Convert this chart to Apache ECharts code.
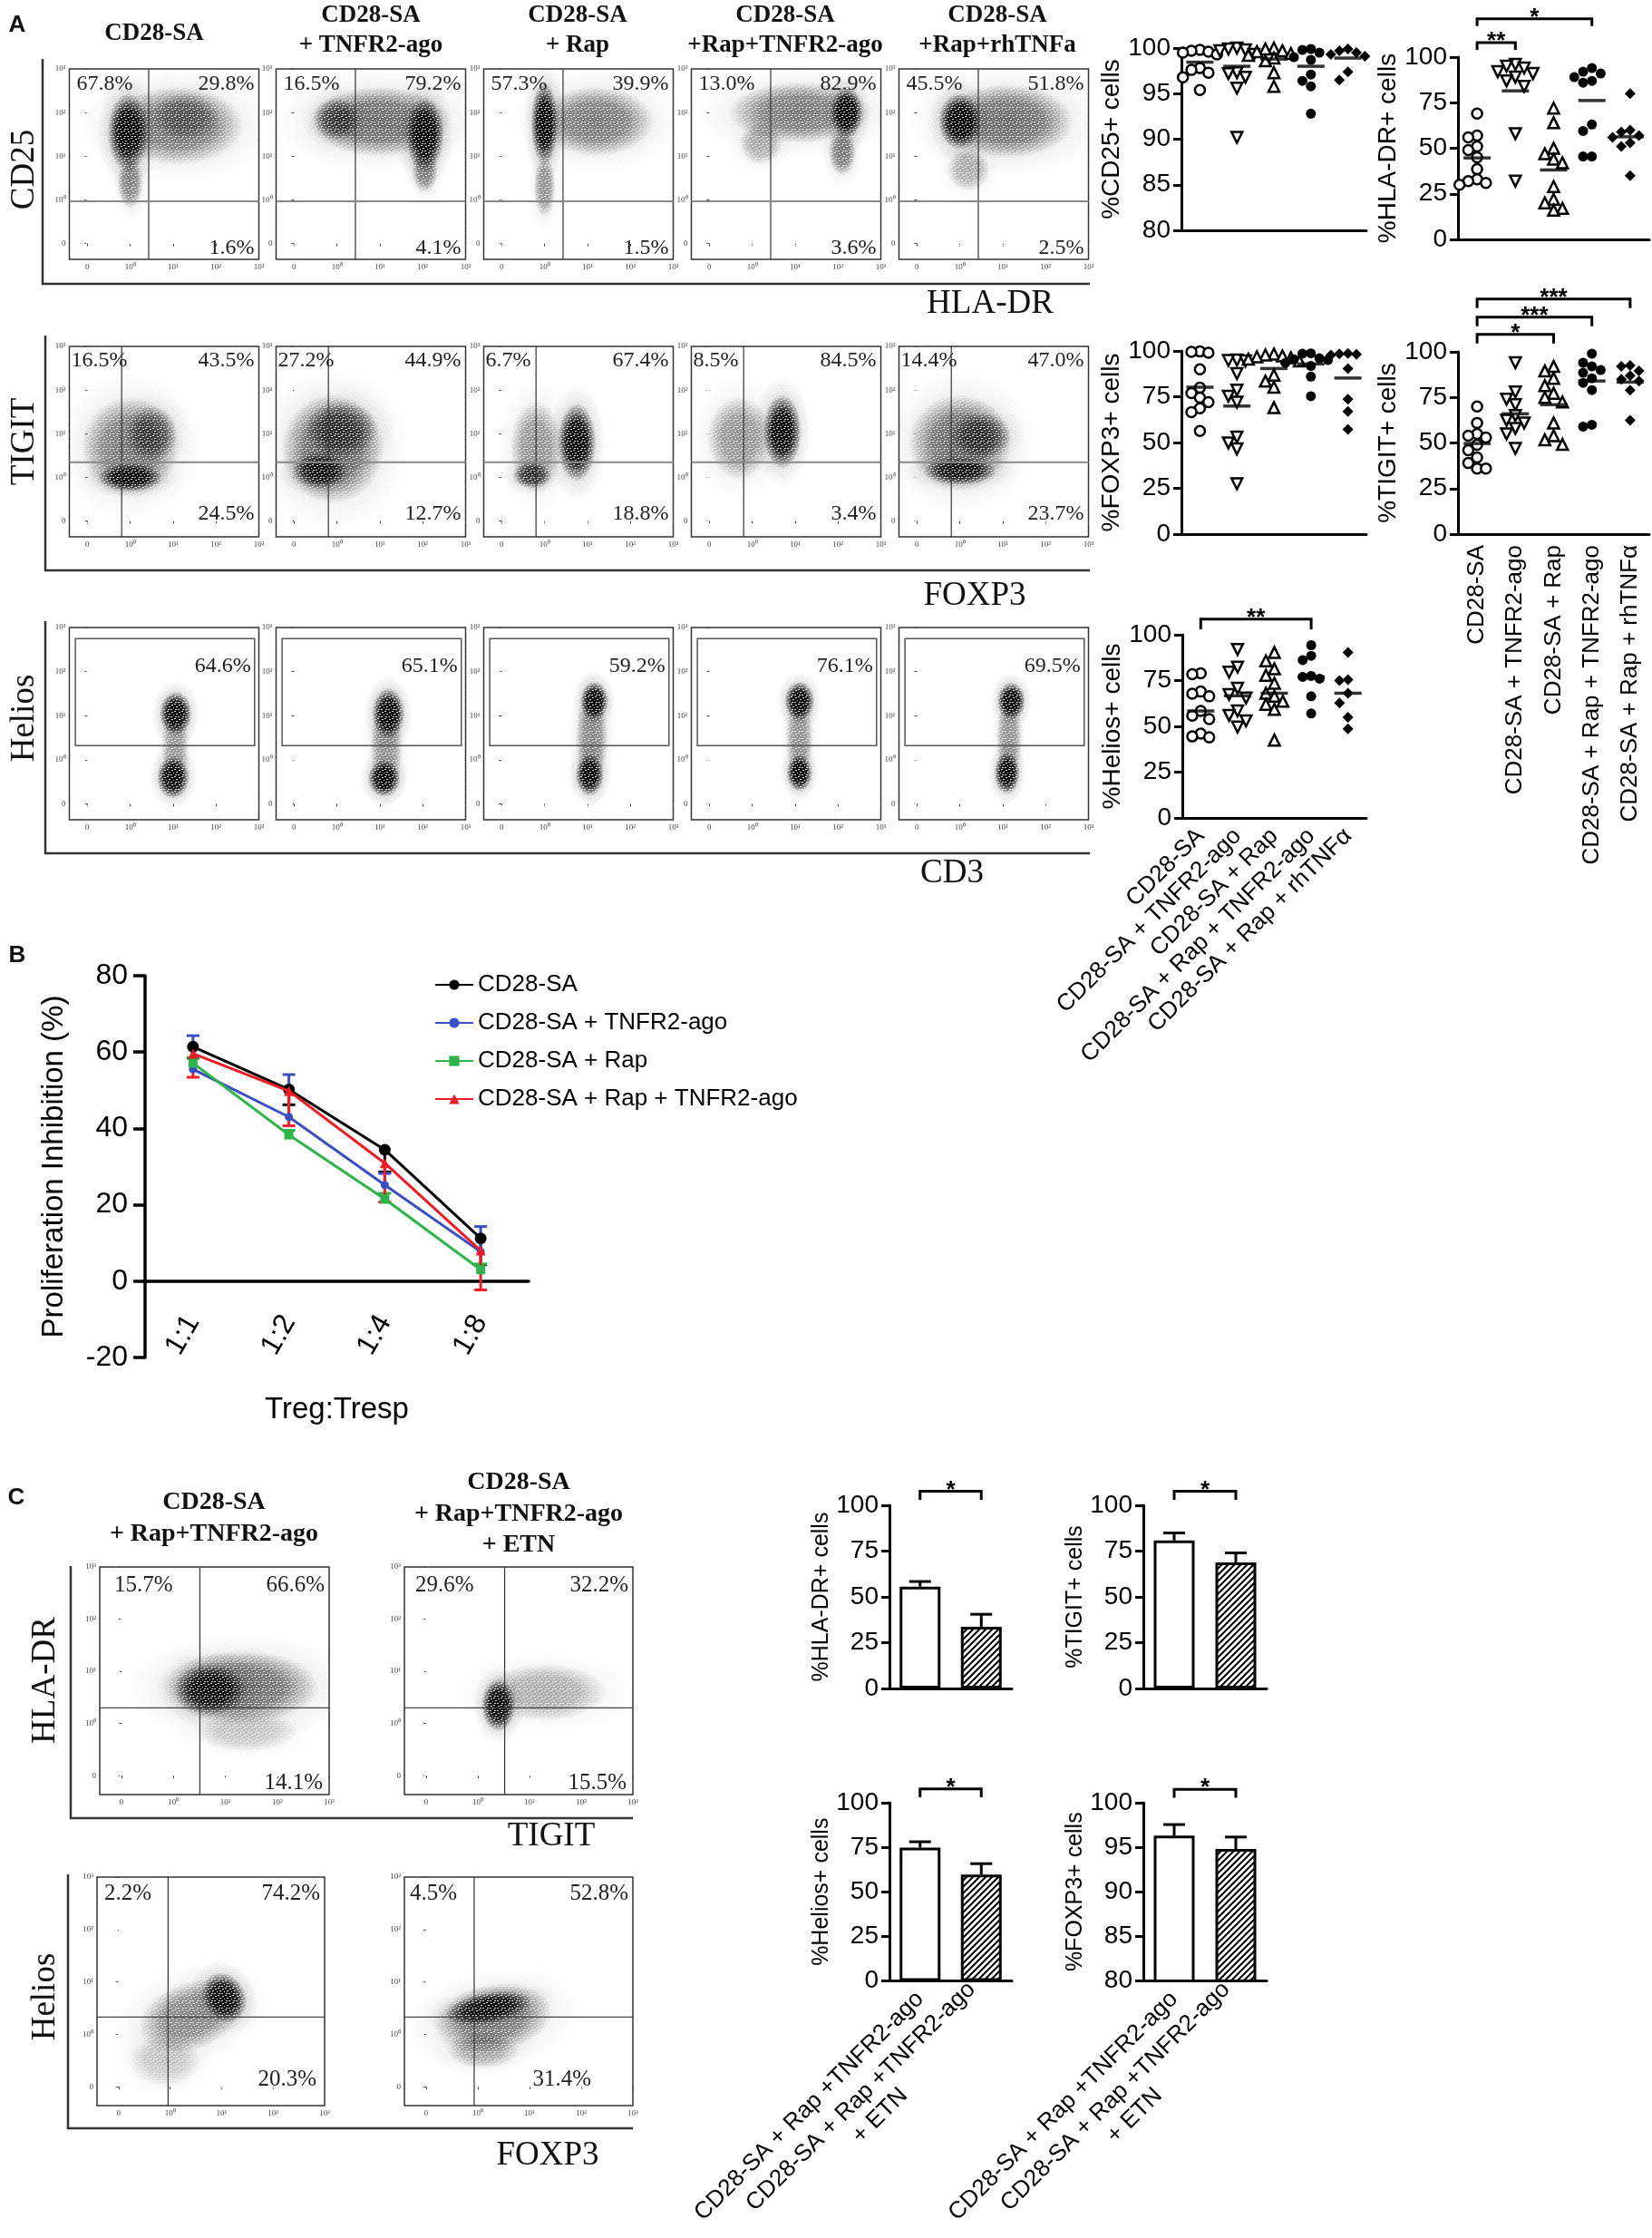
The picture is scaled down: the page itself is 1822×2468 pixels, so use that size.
<!DOCTYPE html>
<html>
<head>
<meta charset="utf-8">
<script src="https://cdn.jsdelivr.net/npm/echarts@6/dist/echarts.min.js"></script>
<style>
  html, body { margin: 0; background: #fff; }
  #main { width: 1822px; height: 2468px; }
</style>
</head>
<body>
<div id="main"></div>
<script>
// ---------- data ----------
const groupNames = ['CD28-SA', 'CD28-SA + TNFR2-ago', 'CD28-SA + Rap', 'CD28-SA + Rap + TNFR2-ago', 'CD28-SA + Rap + rhTNFα'];
const colTitles = [['CD28-SA'], ['CD28-SA', '+ TNFR2-ago'], ['CD28-SA', '+ Rap'], ['CD28-SA', '+Rap+TNFR2-ago'], ['CD28-SA', '+Rap+rhTNFa']];
const flowTicks = [0, 1, 2, 3, 4];

// flow blobs: [x, y, rx, ry, angle, alpha], x / y in decades (0 = "0", 1 = 10^0 ...)
const cd25Quad = [1.43, 0.97];
const cd25Pct = [['67.8%', '29.8%', '1.6%'], ['16.5%', '79.2%', '4.1%'], ['57.3%', '39.9%', '1.5%'], ['13.0%', '82.9%', '3.6%'], ['45.5%', '51.8%', '2.5%']];
const cd25Blobs = [
  [[2.1, 2.7, 1.55, 0.9, 0, 0.5], [0.95, 2.55, 0.48, 0.9, 0, 1.0], [1.0, 1.4, 0.3, 0.6, 0, 0.45], [2.3, 2.9, 0.8, 0.55, 0, 0.35]],
  [[2.0, 2.8, 1.65, 0.8, 0, 0.55], [1.0, 2.85, 0.55, 0.5, 0, 0.6], [3.05, 2.5, 0.45, 0.85, 0, 1.0], [3.05, 1.7, 0.3, 0.55, 0, 0.45]],
  [[1.0, 2.75, 0.32, 0.95, 0, 1.0], [2.2, 2.8, 1.35, 0.8, 0, 0.5], [1.0, 1.3, 0.25, 0.7, 0, 0.4]],
  [[2.1, 3.0, 1.65, 0.7, 0, 0.5], [3.2, 3.0, 0.38, 0.6, 0, 1.0], [3.1, 2.1, 0.32, 0.55, 0, 0.5], [1.2, 2.3, 0.5, 0.5, 0, 0.3]],
  [[1.0, 2.8, 0.5, 0.65, 0, 1.0], [2.1, 2.8, 1.55, 0.85, 0, 0.55], [1.2, 1.7, 0.5, 0.5, 0, 0.3]]
];

const tigitQuad = [0.8, 1.35];
const tigitPct = [['16.5%', '43.5%', '24.5%'], ['27.2%', '44.9%', '12.7%'], ['6.7%', '67.4%', '18.8%'], ['8.5%', '84.5%', '3.4%'], ['14.4%', '47.0%', '23.7%']];
const tigitBlobs = [
  [[1.0, 1.7, 1.15, 1.15, 0, 0.5], [1.0, 1.0, 0.75, 0.32, 0, 0.95], [1.5, 2.0, 0.6, 0.65, 0, 0.55]],
  [[0.9, 1.65, 1.2, 1.25, 0, 0.55], [0.6, 1.15, 0.65, 0.42, 0, 0.85], [1.1, 2.1, 0.85, 0.65, 0, 0.6]],
  [[1.75, 1.8, 0.45, 0.9, 0, 1.0], [0.8, 1.7, 0.6, 1.05, 0, 0.4], [0.7, 1.05, 0.45, 0.3, 0, 0.7]],
  [[1.7, 2.05, 0.45, 0.85, 0, 1.0], [0.7, 1.9, 0.75, 0.95, 0, 0.4]],
  [[1.0, 1.8, 1.2, 1.1, 0, 0.55], [1.0, 1.15, 0.85, 0.32, 0, 0.85], [1.5, 1.95, 0.7, 0.55, 0, 0.6]]
];

const heliosGate = [-0.28, 1.32, 3.9, 3.75];
const heliosPct = ['64.6%', '65.1%', '59.2%', '76.1%', '69.5%'];
const heliosBlobs = [
  [[2.06, 2.05, 0.38, 0.5, 0, 1.0], [2.0, 0.6, 0.38, 0.48, 0, 1.0], [2.05, 1.3, 0.32, 0.95, 0, 0.35]],
  [[2.2, 2.05, 0.38, 0.58, 0, 1.0], [2.1, 0.58, 0.38, 0.42, 0, 1.0], [2.15, 1.3, 0.38, 1.05, 0, 0.4]],
  [[2.16, 2.33, 0.33, 0.45, 0, 1.0], [2.05, 0.66, 0.33, 0.48, 0, 1.0], [2.1, 1.5, 0.38, 1.05, 0, 0.45]],
  [[2.1, 2.33, 0.35, 0.45, 0, 1.0], [2.1, 0.7, 0.3, 0.42, 0, 1.0], [2.1, 1.5, 0.32, 0.95, 0, 0.4]],
  [[2.2, 2.33, 0.33, 0.43, 0, 1.0], [2.1, 0.7, 0.3, 0.48, 0, 1.0], [2.15, 1.5, 0.3, 0.95, 0, 0.4]]
];

// panel C flow
const cTitles = [['CD28-SA', '+ Rap+TNFR2-ago'], ['CD28-SA', '+ Rap+TNFR2-ago', '+ ETN']];
const cHlaQuad = [[1.51, 1.3], [1.52, 1.3]];
const cHlaPct = [['15.7%', '66.6%', '14.1%'], ['29.6%', '32.2%', '15.5%']];
const cHlaBlobs = [
  [[2.3, 1.7, 1.5, 0.7, 0, 0.55], [1.7, 1.65, 0.7, 0.5, 0, 0.9], [2.4, 0.85, 1.0, 0.4, 0, 0.2]],
  [[1.4, 1.35, 0.33, 0.5, 0, 1.0], [2.3, 1.6, 1.2, 0.55, 0, 0.3]]
];
const cHelQuad = [[0.96, 1.33], [0.93, 1.33]];
const cHelPct = [['2.2%', '74.2%', '20.3%'], ['4.5%', '52.8%', '31.4%']];
const cHelBlobs = [
  [[1.4, 1.35, 1.05, 0.65, 20, 0.45], [2.05, 1.7, 0.42, 0.5, 30, 0.95], [0.9, 0.5, 0.7, 0.5, 0, 0.2]],
  [[1.3, 1.3, 1.15, 0.65, 10, 0.5], [1.2, 1.5, 0.85, 0.3, 10, 0.9], [1.1, 0.7, 0.7, 0.35, 0, 0.3]]
];

// panel A dot plots (% positive cells per donor)
const cd25G1 = [99.8, 99.7, 99.6, 99.5, 99.3, 97.8, 97.6, 97.3, 96.8, 95.4];
const cd25G2 = [100, 99.9, 99.8, 99.7, 99.3, 97.3, 97.2, 96.8, 95.6, 90.2];
const cd25G3 = [100, 99.9, 99.7, 99.6, 99.4, 99.2, 98.9, 98.6, 97.3, 95.8];
const cd25G4 = [99.9, 99.8, 99.5, 99.0, 98.7, 97.1, 96.4, 95.8, 92.8];
const cd25G5 = [99.9, 99.7, 99.5, 99.3, 99.1, 97.4, 96.5];
const cd25Mean = [98.45, 98.0, 98.8, 98.0, 98.9];

const hladrG1 = [69, 57, 56, 51, 49, 45, 38.5, 33, 32, 31, 30];
const hladrG2 = [96, 95, 94, 92, 91, 89, 87, 84, 58, 32];
const hladrG3 = [72, 64, 50, 47, 44, 42, 29, 22, 20, 17, 16];
const hladrG4 = [94, 92, 91, 89, 87, 86, 63, 59.5, 45.5, 45.5];
const hladrG5 = [80, 60, 59, 57, 56, 53, 51, 35];
const hladrMean = [44.7, 81.5, 38.1, 76.2, 56.3];
const hladrSig = [[1, 2, 108, '**'], [1, 4, 121, '*']];

const foxp3G1 = [99.7, 99.5, 99.0, 90, 80, 77, 74.5, 72, 68.7, 66.6, 56.3];
const foxp3G2 = [95, 94.8, 94.5, 87.6, 78.6, 75.3, 72, 53, 49.8, 46.5, 27.5];
const foxp3G3 = [98.3, 97.8, 97.3, 96.8, 96.3, 95.5, 94.5, 86.8, 83.5, 80.2, 69];
const foxp3G4 = [98.7, 98.5, 96, 95.4, 95, 93.5, 91.8, 86, 75.3];
const foxp3G5 = [98.6, 98.4, 98.2, 97.8, 90.4, 73.6, 67, 57.2];
const foxp3Mean = [80.2, 69.9, 90.4, 92.9, 85.2];

const tigitG1 = [70, 61, 55, 54, 53, 49, 46, 42, 39, 36, 36];
const tigitG2 = [94, 78, 74, 71, 65, 62.5, 61, 58, 55, 47];
const tigitG3 = [92, 89.5, 85.5, 81.5, 77.3, 75, 72.5, 61, 54, 51.7, 49.2];
const tigitG4 = [99, 94, 92, 90, 88.5, 85.5, 83, 79, 60, 59];
const tigitG5 = [92.5, 92, 89.5, 87, 85, 84, 79, 62.5];
const tigitMean = [49.7, 66, 71, 84, 83.4];
const tigitSig = [[1, 3, 109.6, '*'], [1, 4, 119, '***'], [1, 5, 129, '***']];

const heliosG1 = [79, 78.5, 69, 67.8, 66.4, 58.4, 55.8, 54, 46, 44.5, 44];
const heliosG2 = [92, 82.3, 79.6, 70.8, 67.3, 65.5, 58.4, 56, 53, 49.6];
const heliosG3 = [90.3, 85.8, 81.4, 77.9, 73.5, 68.1, 66.4, 63.7, 62, 59.3, 42.5];
const heliosG4 = [94.3, 88.5, 86.2, 77.5, 77, 76, 66.4, 57];
const heliosG5 = [90.3, 75.5, 75, 68.1, 62.8, 54.9, 48.7];
const heliosMean = [58.4, 66.7, 68.1, 77, 68.1];
const heliosSig = [[1, 4, 108.5, '**']];

// panel B: suppression assay
const ratioCats = ['1:1', '1:2', '1:4', '1:8'];
const lineNames = ['CD28-SA', 'CD28-SA + TNFR2-ago', 'CD28-SA + Rap', 'CD28-SA + Rap + TNFR2-ago'];
const inhCD28 = [61.4, 50.2, 34.4, 11.2];
const inhTNFR2 = [55.5, 43.0, 25.2, 7.7];
const inhRap = [57.1, 38.3, 21.5, 3.0];
const inhRapTNFR2 = [59.6, 49.8, 30.9, 8.0];
// signed error: >0 drawn up, <0 drawn down
const errCD28 = [-3.0, -4.0, -5.8, -6.9];
const errTNFR2 = [8.8, 11.1, 3.0, 6.6];
const errRap = [1.5, 1.2, 1.5, 1.5];
const errRapTNFR2 = [-6.2, -9.1, -10.2, -10.3];

// panel C bars
const barCats = ['CD28-SA + Rap +TNFR2-ago', 'CD28-SA + Rap +TNFR2-ago\n+ ETN'];
const hladrBar = [55.6, 33.7];
const hladrBarErr = [2.8, 6.8];
const tigitBar = [80.8, 68.8];
const tigitBarErr = [4.1, 5.2];
const heliosBar = [74.8, 59.7];
const heliosBarErr = [3.3, 6.1];
const foxp3Bar = [96.3, 94.8];
const foxp3BarErr = [1.25, 1.35];
const barSig = [[0, 1, 107.7, '*']];
const foxp3BarSig = [[0, 1, 101.5, '*']];

// ---------- styling helpers ----------
const SANS = '"Liberation Sans", Arial, sans-serif';
const SERIF = '"Liberation Serif", "Times New Roman", serif';
const supDigits = ['\u2070', '\u00b9', '\u00b2', '\u00b3'];

const grid = [], xAxis = [], yAxis = [], series = [], elements = [];

function addGrid(b, extra) {
  grid.push(Object.assign({ left: b[0], top: b[1], width: b[2], height: b[3] }, extra || {}));
  return grid.length - 1;
}

function txt(text, x, y, font, extra) {
  elements.push(Object.assign({
    type: 'text', x: x, y: y, silent: true,
    style: { text: text, font: font, fill: '#111', align: 'center', verticalAlign: 'middle', textAlign: 'center', textVerticalAlign: 'middle' }
  }, extra || {}));
}
function poly(points, w) {
  elements.push({ type: 'polyline', silent: true, shape: { points: points }, style: { stroke: '#333', lineWidth: w || 2.5, fill: 'none' } });
}

// hatch fill for the ETN bars
const hatch = document.createElement('canvas');
hatch.width = 7; hatch.height = 7;
const hc = hatch.getContext('2d');
hc.fillStyle = '#fff'; hc.fillRect(0, 0, 7, 7);
hc.strokeStyle = '#000'; hc.lineWidth = 2;
hc.beginPath();
hc.moveTo(-1, 8); hc.lineTo(8, -1);
hc.moveTo(-1, 1); hc.lineTo(1, -1);
hc.moveTo(6, 8); hc.lineTo(8, 6);
hc.stroke();
const hatchFill = { image: hatch, repeat: 'repeat' };

// white speckle texture laid over the flow plots so the density looks like dots
const grain = document.createElement('canvas');
grain.width = 8; grain.height = 8;
const gc = grain.getContext('2d');
gc.fillStyle = 'rgba(255,255,255,0.85)';
[[0, 0], [5, 1], [2, 3], [7, 4], [4, 6], [1, 6]].forEach(p => gc.fillRect(p[0], p[1], 2, 1));
const grainFill = { image: grain, repeat: 'repeat' };

// ---------- flow plots ----------
function flowAxis(gi, min, max) {
  return {
    gridIndex: gi, type: 'value', min: min, max: max,
    splitLine: { show: false }, axisLine: { show: false },
    axisTick: { show: true, customValues: flowTicks, length: 3, lineStyle: { color: '#444', width: 1 } },
    axisLabel: { customValues: flowTicks, formatter: v => (v === 0 ? '0' : '10' + supDigits[v - 1]), fontSize: 9, color: '#444', margin: 4, fontFamily: SERIF }
  };
}

function radial(a) {
  return { type: 'radial', x: 0.5, y: 0.5, r: 0.5, colorStops: [
    { offset: 0, color: 'rgba(0,0,0,' + a + ')' },
    { offset: 0.55, color: 'rgba(0,0,0,' + (a * 0.85) + ')' },
    { offset: 1, color: 'rgba(0,0,0,0)' }] };
}

function blobItem(params, api) {
  const c = api.coord([api.value(0), api.value(1)]);
  const s = api.size([api.value(2), api.value(3)]);
  const a = api.value(5);
  const rot = api.value(4) * Math.PI / 180;
  return { type: 'group', children: [
    { type: 'circle', x: c[0], y: c[1], rotation: rot, scaleX: s[0] * 1.5 / 50, scaleY: s[1] * 1.5 / 50,
      shape: { cx: 0, cy: 0, r: 50 }, style: { fill: radial(a * 0.16) } },
    { type: 'circle', x: c[0], y: c[1], rotation: rot, scaleX: s[0] / 50, scaleY: s[1] / 50,
      shape: { cx: 0, cy: 0, r: 50 }, style: { fill: radial(a) } }
  ] };
}

function flowPlot(box, blobs, quad, pct, opt) {
  const gi = addGrid(box, { show: true, borderColor: '#333', borderWidth: 1.5, backgroundColor: 'transparent' });
  xAxis.push(flowAxis(gi, -0.42, 4));
  yAxis.push(flowAxis(gi, -0.36, 4));
  const xi = xAxis.length - 1, yi = yAxis.length - 1;
  series.push({ type: 'custom', xAxisIndex: xi, yAxisIndex: yi, silent: true, clip: true, z: 2, data: blobs, renderItem: blobItem });
  series.push({
    type: 'custom', xAxisIndex: xi, yAxisIndex: yi, silent: true, clip: false, z: 3, data: [quad],
    renderItem: function (params, api) {
      const cs = params.coordSys;
      const L = cs.x, T = cs.y, R = cs.x + cs.width, B = cs.y + cs.height;
      const font = opt.fs + 'px ' + SERIF;
      const kids = [{ type: 'rect', shape: { x: L + 1, y: T + 1, width: R - L - 2, height: B - T - 2 }, style: { fill: grainFill } }];
      const t = (s, x, y, al) => kids.push({ type: 'text', x: x, y: y, style: { text: s, font: font, fill: '#222', align: al, verticalAlign: 'middle' } });
      if (opt.gate) {
        const p1 = api.coord([api.value(0), api.value(3)]);
        const p2 = api.coord([api.value(2), api.value(1)]);
        kids.push({ type: 'rect', shape: { x: p1[0], y: p1[1], width: p2[0] - p1[0], height: p2[1] - p1[1] }, style: { fill: 'none', stroke: '#555', lineWidth: 1.5 } });
        t(pct, p2[0] - 4, p1[1] + 31, 'right');
      } else {
        const p = api.coord([api.value(0), api.value(1)]);
        kids.push({ type: 'line', shape: { x1: p[0], y1: T, x2: p[0], y2: B }, style: { stroke: '#333', lineWidth: 1.2 } });
        kids.push({ type: 'line', shape: { x1: L, y1: p[1], x2: R, y2: p[1] }, style: { stroke: opt.hc, lineWidth: opt.hw } });
        t(pct[0], L + opt.tl, T + opt.ty, 'left');
        t(pct[1], R - 5, T + opt.ty, 'right');
        t(pct[2], R - opt.brx, B - opt.by, 'right');
      }
      return { type: 'group', children: kids };
    }
  });
}

const flowX = [76.5, 304.5, 533.5, 762.5, 991.5];
flowX.forEach((x, i) => {
  flowPlot([x, 76, 209, 210], cd25Blobs[i], cd25Quad, cd25Pct[i], { fs: 24, tl: 8, ty: 17, by: 12, brx: 5, hc: '#888', hw: 2 });
  flowPlot([x, 382, 209, 210], tigitBlobs[i], tigitQuad, tigitPct[i], { fs: 24, tl: 2, ty: 16, by: 25, brx: 5, hc: '#888', hw: 2 });
  flowPlot([x, 692, 209, 212], heliosBlobs[i], heliosGate, heliosPct[i], { fs: 24, gate: true });
});
flowPlot([110, 1728, 253, 251], cHlaBlobs[0], cHlaQuad[0], cHlaPct[0], { fs: 25, tl: 16, ty: 20, by: 13, brx: 7, hc: '#444', hw: 1.2 });
flowPlot([446, 1728, 252, 251], cHlaBlobs[1], cHlaQuad[1], cHlaPct[1], { fs: 25, tl: 12, ty: 20, by: 13, brx: 7, hc: '#444', hw: 1.2 });
flowPlot([107, 2070, 251, 252], cHelBlobs[0], cHelQuad[0], cHelPct[0], { fs: 25, tl: 8, ty: 18, by: 29, brx: 9, hc: '#444', hw: 1.2 });
flowPlot([446, 2070, 252, 252], cHelBlobs[1], cHelQuad[1], cHelPct[1], { fs: 25, tl: 6, ty: 18, by: 29, brx: 46, hc: '#444', hw: 1.2 });

// ---------- dot plots ----------
const dotSymbols = [
  { symbol: 'circle', rotate: 0, size: 11, fill: '#fff' },
  { symbol: 'triangle', rotate: 180, size: 12, fill: '#fff' },
  { symbol: 'triangle', rotate: 0, size: 12, fill: '#fff' },
  { symbol: 'circle', rotate: 0, size: 11, fill: '#000' },
  { symbol: 'diamond', rotate: 0, size: 12, fill: '#000' }
];

function swarm(vals, cx, thr) {
  const placed = [];
  const step = 0.23;
  const offs = [0, -step, step, -2 * step, 2 * step, -3 * step, 3 * step];
  return vals.map(v => {
    let off = 0;
    for (const o of offs) {
      if (!placed.some(p => Math.abs(p[0] - o) < step * 0.9 && Math.abs(p[1] - v) < thr)) { off = o; break; }
    }
    placed.push([off, v]);
    return [cx + off, v];
  });
}

function bracketSeries(xi, yi, list, drop) {
  series.push({
    type: 'custom', xAxisIndex: xi, yAxisIndex: yi, silent: true, clip: false, z: 5,
    data: list.map(b => [b[0], b[1], b[2]]),
    renderItem: function (params, api) {
      const a = api.coord([api.value(0), api.value(2)]);
      const b = api.coord([api.value(1), api.value(2)]);
      const d = Math.abs(api.size([0, drop])[1]);
      return { type: 'group', children: [
        { type: 'polyline', shape: { points: [[a[0], a[1] + d], [a[0], a[1]], [b[0], b[1]], [b[0], b[1] + d]] }, style: { stroke: '#000', lineWidth: 3, fill: 'none' } },
        { type: 'text', x: (a[0] + b[0]) / 2, y: a[1] + 12, style: { text: list[params.dataIndex][3], font: 'bold 26px ' + SANS, fill: '#000', align: 'center', verticalAlign: 'bottom' } }
      ] };
    }
  });
}

function yValueAxis(gi, cfg, fs, nfs) {
  return {
    gridIndex: gi, type: 'value', min: cfg.min, max: cfg.max, interval: cfg.interval,
    name: cfg.name, nameLocation: 'middle', nameGap: cfg.nameGap,
    nameTextStyle: { fontSize: nfs, color: '#000', fontFamily: SANS },
    axisLine: { show: true, lineStyle: { color: '#000', width: 3 } },
    axisTick: { show: true, length: 9, lineStyle: { color: '#000', width: 3 } },
    axisLabel: { fontSize: fs, color: '#000', fontFamily: SANS, margin: 12 },
    splitLine: { show: false }
  };
}

function dotPlot(box, cfg) {
  const gi = addGrid(box);
  xAxis.push({
    gridIndex: gi, type: 'category', data: groupNames,
    axisLine: { lineStyle: { color: '#000', width: 3 } },
    axisTick: { alignWithLabel: true, length: 11, lineStyle: { color: '#000', width: 3 } },
    axisLabel: cfg.rotate == null ? { show: false } : { interval: 0, rotate: cfg.rotate, fontSize: 26, color: '#000', fontFamily: SANS, margin: cfg.labelMargin }
  });
  xAxis.push({ gridIndex: gi, type: 'value', min: 0.5, max: 5.5, show: false });
  const xv = xAxis.length - 1;
  yAxis.push(yValueAxis(gi, cfg, 28, 28));
  const yi = yAxis.length - 1;
  const thr = (cfg.max - cfg.min) * 11 / box[3];
  cfg.groups.forEach((vals, g) => {
    const st = dotSymbols[g];
    series.push({
      type: 'scatter', xAxisIndex: xv, yAxisIndex: yi, silent: true, z: 3,
      data: swarm(vals, g + 1, thr), symbol: st.symbol, symbolRotate: st.rotate, symbolSize: st.size,
      itemStyle: { color: st.fill, borderColor: '#000', borderWidth: st.fill === '#fff' ? 2.5 : 0, opacity: 1 }
    });
  });
  series.push({
    type: 'scatter', xAxisIndex: xv, yAxisIndex: yi, silent: true, z: 4,
    data: cfg.means.map((m, g) => [g + 1, m]), symbol: 'rect', symbolSize: [30, 3.5], itemStyle: { color: '#000' }
  });
  if (cfg.sig) bracketSeries(xv, yi, cfg.sig, cfg.drop);
}

dotPlot([1303, 53, 204, 201], { min: 80, max: 100, interval: 5, name: '%CD25+ cells', nameGap: 60,
  groups: [cd25G1, cd25G2, cd25G3, cd25G4, cd25G5], means: cd25Mean });
dotPlot([1608, 63, 211, 201], { min: 0, max: 100, interval: 25, name: '%HLA-DR+ cells', nameGap: 50,
  groups: [hladrG1, hladrG2, hladrG3, hladrG4, hladrG5], means: hladrMean, sig: hladrSig, drop: 4 });
dotPlot([1303, 387, 204, 202], { min: 0, max: 100, interval: 25, name: '%FOXP3+ cells', nameGap: 60,
  groups: [foxp3G1, foxp3G2, foxp3G3, foxp3G4, foxp3G5], means: foxp3Mean });
dotPlot([1608, 388, 211, 201], { min: 0, max: 100, interval: 25, name: '%TIGIT+ cells', nameGap: 52,
  groups: [tigitG1, tigitG2, tigitG3, tigitG4, tigitG5], means: tigitMean, sig: tigitSig, drop: 5, rotate: 90, labelMargin: 12 });
dotPlot([1304, 700, 203, 202], { min: 0, max: 100, interval: 25, name: '%Helios+ cells', nameGap: 57,
  groups: [heliosG1, heliosG2, heliosG3, heliosG4, heliosG5], means: heliosMean, sig: heliosSig, drop: 5.5, rotate: 45, labelMargin: 16 });

// ---------- panel B ----------
// the x axis sits on the zero line: grid bottom is -20, so shift it up by 84 px
const gB = addGrid([160, 1076, 423, 421]);
xAxis.push({
  gridIndex: gB, type: 'category', data: ratioCats, offset: -84,
  axisLine: { onZero: false, lineStyle: { color: '#000', width: 3.5 } },
  axisTick: { alignWithLabel: true, length: 15, lineStyle: { color: '#000', width: 3.5 } },
  axisLabel: { rotate: 60, fontSize: 32, margin: 40, color: '#000', fontFamily: SANS },
  name: 'Treg:Tresp', nameLocation: 'middle', nameGap: 125,
  nameTextStyle: { fontSize: 33, color: '#000', fontFamily: SANS }
});
const xB = xAxis.length - 1;
yAxis.push({
  gridIndex: gB, type: 'value', min: -20, max: 80, interval: 20,
  name: 'Proliferation Inhibition (%)', nameLocation: 'middle', nameGap: 84,
  nameTextStyle: { fontSize: 33, color: '#000', fontFamily: SANS },
  axisLine: { show: true, onZero: false, lineStyle: { color: '#000', width: 3.5 } },
  axisTick: { show: true, length: 13, lineStyle: { color: '#000', width: 3.5 } },
  axisLabel: { fontSize: 32, color: '#000', fontFamily: SANS, margin: 19 },
  splitLine: { show: false }
});
const yB = yAxis.length - 1;

function errSeries(xi, yi, vals, errs, color, capW, lw) {
  series.push({
    type: 'custom', xAxisIndex: xi, yAxisIndex: yi, silent: true, z: 1,
    data: vals.map((v, i) => [i, v, errs[i]]),
    renderItem: function (params, api) {
      const p = api.coord([api.value(0), api.value(1)]);
      const q = api.coord([api.value(0), api.value(1) + api.value(2)]);
      return { type: 'group', children: [
        { type: 'line', shape: { x1: p[0], y1: p[1], x2: q[0], y2: q[1] }, style: { stroke: color, lineWidth: lw } },
        { type: 'line', shape: { x1: q[0] - capW / 2, y1: q[1], x2: q[0] + capW / 2, y2: q[1] }, style: { stroke: color, lineWidth: lw } }
      ] };
    }
  });
}

const lineStyles = [
  { data: inhCD28, err: errCD28, color: '#000000', symbol: 'circle', size: 13 },
  { data: inhTNFR2, err: errTNFR2, color: '#3a4fc4', symbol: 'circle', size: 9 },
  { data: inhRap, err: errRap, color: '#2fb34b', symbol: 'rect', size: 10 },
  { data: inhRapTNFR2, err: errRapTNFR2, color: '#ee1c24', symbol: 'triangle', size: 11 }
];
lineStyles.forEach((s, i) => {
  errSeries(xB, yB, s.data, s.err, s.color, 14, 3);
  series.push({
    type: 'line', name: lineNames[i], xAxisIndex: xB, yAxisIndex: yB, data: s.data,
    symbol: s.symbol, symbolSize: s.size, showAllSymbol: true,
    lineStyle: { color: s.color, width: 3 }, itemStyle: { color: s.color }, z: 3 + (i === 0 ? 0 : 1)
  });
});

// ---------- panel C bars ----------
function barPlot(box, cfg) {
  const gi = addGrid(box);
  xAxis.push({
    gridIndex: gi, type: 'category', data: barCats,
    axisLine: { lineStyle: { color: '#000', width: 3 } },
    axisTick: { alignWithLabel: true, length: 11, lineStyle: { color: '#000', width: 3 } },
    axisLabel: cfg.labels ? {
      interval: 0, rotate: 45, margin: 16, color: '#000', fontSize: 26, fontFamily: SANS, lineHeight: 30,
      formatter: v => {
        const parts = v.split('\n');
        return parts.length > 1 ? '{a|' + parts[0] + '}\n{b|' + parts[1] + '}' : '{a|' + v + '}';
      },
      rich: {
        a: { fontSize: 26, fontFamily: SANS, color: '#000', lineHeight: 30 },
        b: { fontSize: 26, fontFamily: SANS, color: '#000', lineHeight: 30, width: 330, align: 'center' }
      }
    } : { show: false }
  });
  const xi = xAxis.length - 1;
  yAxis.push(yValueAxis(gi, cfg, 28, 25));
  const yi = yAxis.length - 1;
  series.push({
    type: 'bar', xAxisIndex: xi, yAxisIndex: yi, silent: true, barWidth: 45, z: 2,
    data: cfg.values.map((v, i) => ({ value: v, itemStyle: { color: i ? hatchFill : '#fff' } })),
    itemStyle: { borderColor: '#000', borderWidth: 3 }
  });
  errSeries(xi, yi, cfg.values, cfg.errs, '#000', 24, 3);
  series[series.length - 1].z = 3;
  bracketSeries(xi, yi, cfg.sig, cfg.drop);
}

barPlot([981, 1660, 135, 202], { min: 0, max: 100, interval: 25, name: '%HLA-DR+ cells', nameGap: 58,
  values: hladrBar, errs: hladrBarErr, sig: barSig, drop: 4.7 });
barPlot([1261, 1660, 136, 202], { min: 0, max: 100, interval: 25, name: '%TIGIT+ cells', nameGap: 58,
  values: tigitBar, errs: tigitBarErr, sig: barSig, drop: 4.7 });
barPlot([981, 1988, 135, 202], { min: 0, max: 100, interval: 25, name: '%Helios+ cells', nameGap: 58,
  values: heliosBar, errs: heliosBarErr, sig: barSig, drop: 4.7, labels: true });
barPlot([1261, 1988, 136, 202], { min: 80, max: 100, interval: 5, name: '%FOXP3+ cells', nameGap: 58,
  values: foxp3Bar, errs: foxp3BarErr, sig: foxp3BarSig, drop: 0.95, labels: true });

// ---------- text and frames ----------
const TITLE = 'bold 27px ' + SERIF;
const BIG = '37px ' + SERIF;
const LETTER = 'bold 26px ' + SANS;
txt('A', 19, 28, LETTER);
txt('B', 19, 1054, LETTER);
txt('C', 18, 1652, LETTER);

const titleX = [170, 409, 637, 866, 1100];
colTitles.forEach((lines, i) => {
  if (lines.length === 1) txt(lines[0], titleX[i], 37, TITLE);
  else lines.forEach((s, k) => txt(s, titleX[i], 17 + k * 33, TITLE));
});
const cTitleX = [236, 572];
cTitles[0].forEach((s, k) => txt(s, cTitleX[0], 1657 + k * 35, 'bold 28px ' + SERIF));
cTitles[1].forEach((s, k) => txt(s, cTitleX[1], 1635 + k * 34.5, 'bold 28px ' + SERIF));

const ROT = { rotation: Math.PI / 2 };
txt('CD25', 27, 187, BIG, ROT);
txt('TIGIT', 27, 487, BIG, ROT);
txt('Helios', 27, 792, BIG, ROT);
txt('HLA-DR', 1092, 335, BIG);
txt('FOXP3', 1075, 657, BIG);
txt('CD3', 1050, 963, BIG);
txt('HLA-DR', 50, 1853, BIG, ROT);
txt('Helios', 50, 2202, BIG, ROT);
txt('TIGIT', 608, 2025, BIG);
txt('FOXP3', 604, 2377, BIG);

poly([[47, 65], [47, 313], [1202, 313]]);
poly([[50, 370], [50, 629], [1202, 629]]);
poly([[50, 685], [50, 941], [1202, 941]]);
poly([[78, 1727], [78, 2005], [698, 2005]]);
poly([[75, 2067], [75, 2347], [698, 2347]]);

const chart = echarts.init(document.getElementById('main'));
chart.setOption({
  animation: false,
  backgroundColor: '#fff',
  textStyle: { fontFamily: SANS },
  grid: grid,
  xAxis: xAxis,
  yAxis: yAxis,
  legend: {
    data: lineNames, orient: 'vertical', left: 474, top: 1066,
    itemWidth: 42, itemHeight: 14, itemGap: 12,
    textStyle: { fontSize: 26, fontFamily: SANS, color: '#000', lineHeight: 30 }
  },
  graphic: { elements: elements },
  series: series
});
</script>
</body>
</html>
